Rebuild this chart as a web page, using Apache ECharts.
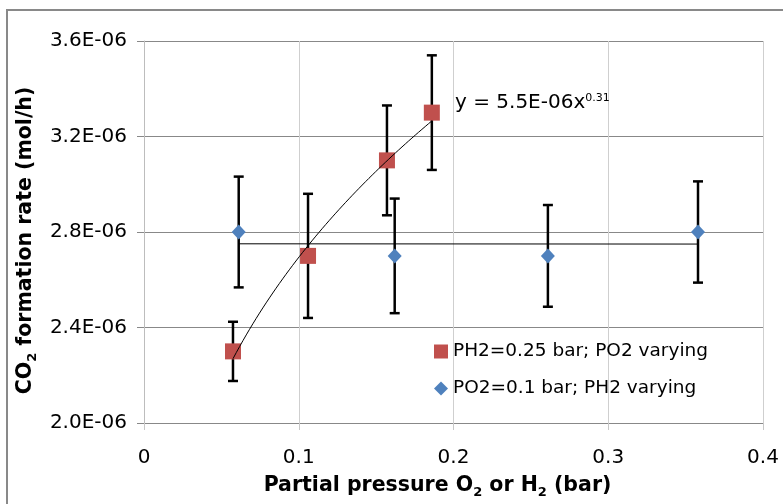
<!DOCTYPE html>
<html>
<head>
<meta charset="utf-8">
<script src="https://cdn.jsdelivr.net/npm/echarts@6/dist/echarts.min.js"></script>
<style>
html,body{margin:0;padding:0;background:#fff;}
#chart{width:783px;height:504px;}
</style>
</head>
<body>
<div id="chart"></div>
<script>
// Values: rate in units of 1E-06 mol/h
var o2Name = 'PH2=0.25 bar; PO2 varying';
var o2X = [0.0575, 0.106, 0.157, 0.186];
var o2Y = [2.30, 2.70, 3.10, 3.30];
var o2Err = [0.124, 0.26, 0.23, 0.24];

var h2Name = 'PO2=0.1 bar; PH2 varying';
var h2X = [0.0612, 0.162, 0.261, 0.358];
var h2Y = [2.80, 2.70, 2.70, 2.80];
var h2Err = [0.232, 0.24, 0.213, 0.212];

// power trendline y = a * x^b shown on chart (a in 1E-06 units)
var o2TrendA = 5.5;
var o2TrendB = 0.31;
var equationMain = 'y = 5.5E-06x';
var equationExp = '0.31';

var xTicks = [0, 0.1, 0.2, 0.3, 0.4];
var yTicks = [2.0, 2.4, 2.8, 3.2, 3.6];

var FONT = 'DejaVu Sans';

function linearFit(xs, ys) {
  var n = xs.length, sx = 0, sy = 0, sxx = 0, sxy = 0;
  for (var i = 0; i < n; i++) {
    sx += xs[i]; sy += ys[i]; sxx += xs[i] * xs[i]; sxy += xs[i] * ys[i];
  }
  var m = (n * sxy - sx * sy) / (n * sxx - sx * sx);
  var c = (sy - m * sx) / n;
  return {m: m, c: c};
}
function powerPoints(xs, a, b) {
  var lo = Math.min.apply(null, xs), hi = Math.max.apply(null, xs);
  var pts = [];
  var N = 60;
  for (var i = 0; i <= N; i++) {
    var x = lo + (hi - lo) * i / N;
    pts.push([x, a * Math.pow(x, b)]);
  }
  return pts;
}
function linePoints(xs, fit) {
  var lo = Math.min.apply(null, xs), hi = Math.max.apply(null, xs);
  return [[lo, fit.c + fit.m * lo], [hi, fit.c + fit.m * hi]];
}
var h2Fit = linearFit(h2X, h2Y);

function zip(xs, ys) { return xs.map(function (x, i) { return [x, ys[i]]; }); }
function errData(xs, ys, es) { return xs.map(function (x, i) { return [x, ys[i], ys[i] - es[i], ys[i] + es[i]]; }); }

function errRender(params, api) {
  var x = api.value(0);
  var lo = api.coord([x, api.value(2)]);
  var hi = api.coord([x, api.value(3)]);
  var cap = 5;
  var st = {stroke: '#000', lineWidth: 2.5};
  return {
    type: 'group',
    children: [
      {type: 'line', shape: {x1: lo[0], y1: lo[1], x2: hi[0], y2: hi[1]}, style: st},
      {type: 'line', shape: {x1: lo[0] - cap, y1: lo[1], x2: lo[0] + cap, y2: lo[1]}, style: st},
      {type: 'line', shape: {x1: hi[0] - cap, y1: hi[1], x2: hi[0] + cap, y2: hi[1]}, style: st}
    ]
  };
}

var chart = echarts.init(document.getElementById('chart'), null, {renderer: 'canvas'});
var subStyle = {fontFamily: FONT, fontSize: 13, fontWeight: 'bold', color: '#000', padding: [13, 0, 0, 0]};

var option = {
  animation: false,
  backgroundColor: '#fff',
  grid: {left: 144, right: 20, top: 41, bottom: 80, containLabel: false},
  graphic: [
    {type: 'rect', shape: {x: 7, y: 10, width: 900, height: 700}, style: {fill: 'none', stroke: '#898989', lineWidth: 2}, z: -1},
    {type: 'text', left: 455, top: 93, style: {
      text: '{m|' + equationMain + '}{e|' + equationExp + '}',
      rich: {
        m: {fontFamily: FONT, fontSize: 20, color: '#000'},
        e: {fontFamily: FONT, fontSize: 11, color: '#000', verticalAlign: 'top'}
      }
    }, z: 100}
  ],
  legend: {
    orient: 'vertical',
    left: 429,
    top: 337,
    itemGap: 18,
    itemWidth: 14,
    itemHeight: 14,
    textStyle: {fontFamily: FONT, fontSize: 18.5, color: '#000'},
    data: [
      {name: o2Name, icon: 'rect'},
      {name: h2Name, icon: 'diamond'}
    ]
  },
  xAxis: {
    type: 'value',
    min: xTicks[0], max: xTicks[xTicks.length - 1], interval: 0.1,
    name: 'Partial pressure O{s|2} or H{s|2} (bar)',
    nameLocation: 'middle',
    nameGap: 50,
    nameTextStyle: {fontFamily: FONT, fontSize: 20.5, fontWeight: 'bold', color: '#000', padding: [0, 32, 0, 0], rich: {s: subStyle}},
    axisLine: {show: true, lineStyle: {color: '#888', width: 1}},
    axisTick: {show: true, length: 7, lineStyle: {color: '#c8c8c8'}},
    axisLabel: {fontFamily: FONT, fontSize: 20, color: '#000', margin: 25,
      formatter: function (v) { return v === 0 ? '0' : String(+v.toFixed(1)); }},
    splitLine: {show: true, lineStyle: {color: '#cfcfcf', width: 1}}
  },
  yAxis: {
    type: 'value',
    min: yTicks[0], max: yTicks[yTicks.length - 1], interval: 0.4,
    name: 'CO{s|2} formation rate (mol/h)',
    nameLocation: 'middle',
    nameRotate: 90,
    nameGap: 95,
    nameTextStyle: {fontFamily: FONT, fontSize: 20.5, fontWeight: 'bold', color: '#000', padding: [0, 17, 0, 0], rich: {s: subStyle}},
    axisLine: {show: true, lineStyle: {color: '#bdbdbd', width: 1}},
    axisTick: {show: true, length: 7, lineStyle: {color: '#888'}},
    axisLabel: {fontFamily: FONT, fontSize: 20, color: '#000', margin: 17,
      formatter: function (v) { return v.toFixed(1) + 'E-06'; }},
    splitLine: {show: true, lineStyle: {color: '#888', width: 1}}
  },
  series: [
    {type: 'custom', name: 'o2err', renderItem: errRender, data: errData(o2X, o2Y, o2Err), encode: {x: 0, y: 1}, z: 2, silent: true},
    {type: 'custom', name: 'h2err', renderItem: errRender, data: errData(h2X, h2Y, h2Err), encode: {x: 0, y: 1}, z: 2, silent: true},
    {type: 'scatter', name: o2Name, data: zip(o2X, o2Y), symbol: 'rect', symbolSize: 16, itemStyle: {color: '#c0504d', opacity: 1}, z: 3},
    {type: 'scatter', name: h2Name, data: zip(h2X, h2Y), symbol: 'diamond', symbolSize: [14, 15], itemStyle: {color: '#4f81bd', opacity: 1}, z: 3},
    {type: 'line', name: 'o2trend', data: powerPoints(o2X, o2TrendA, o2TrendB), showSymbol: false, symbol: 'none', smooth: false, lineStyle: {color: '#000', width: 1}, z: 4, silent: true},
    {type: 'line', name: 'h2trend', data: linePoints(h2X, h2Fit), showSymbol: false, symbol: 'none', smooth: false, lineStyle: {color: '#000', width: 1}, z: 4, silent: true}
  ]
};
chart.setOption(option);
</script>
</body>
</html>
